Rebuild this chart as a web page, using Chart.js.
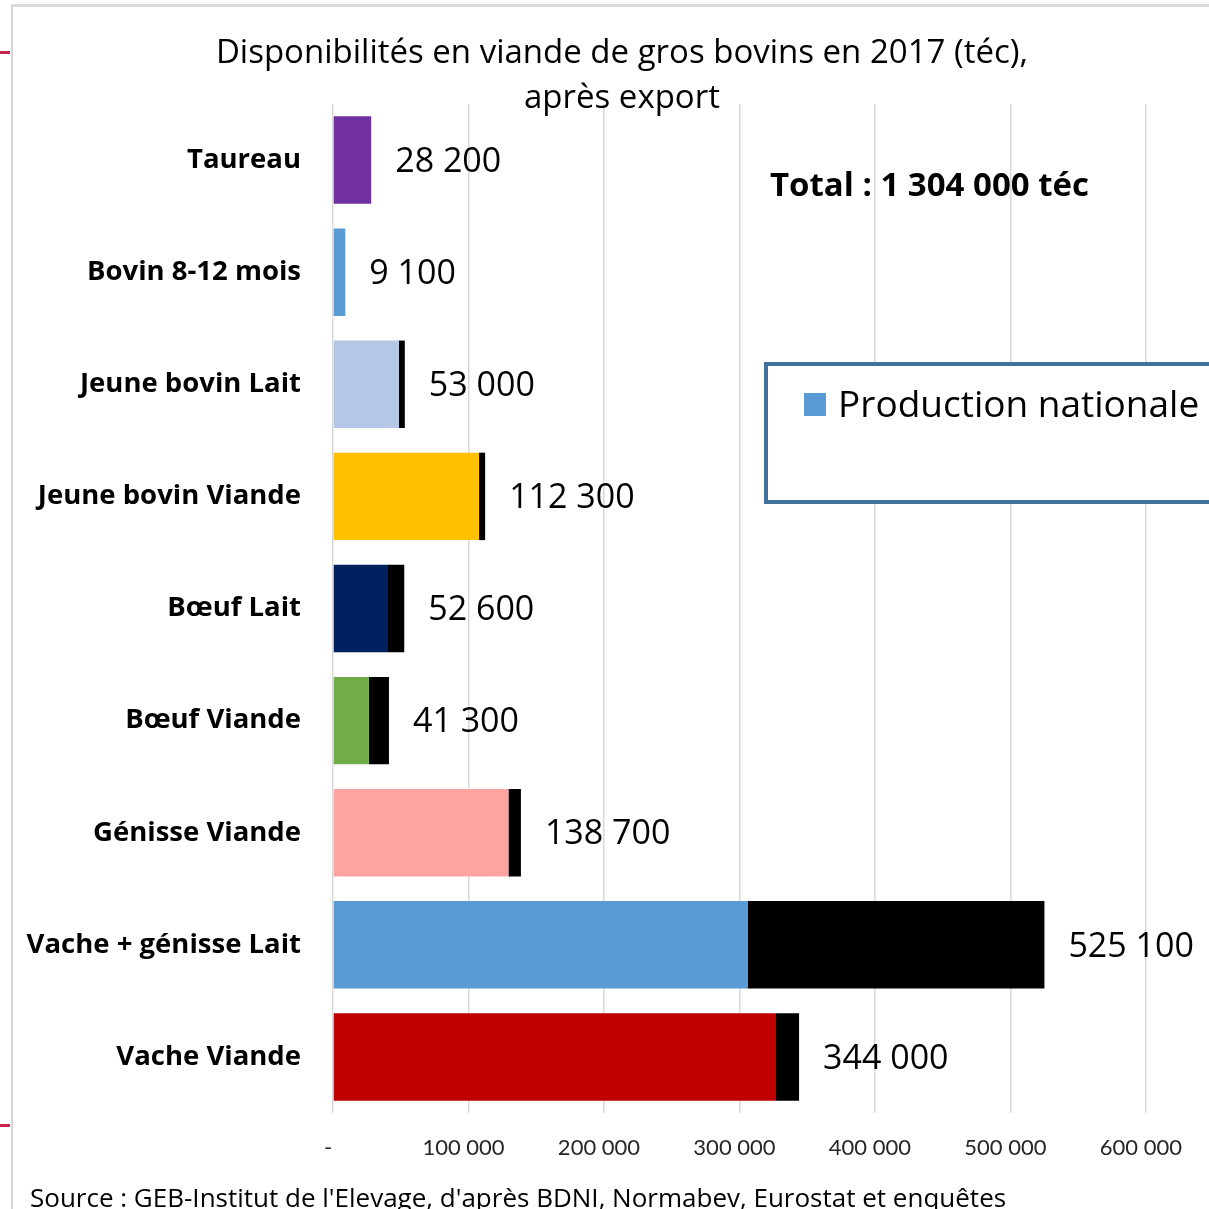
<!DOCTYPE html>
<html>
<head>
<meta charset="utf-8">
<script src="https://cdn.jsdelivr.net/npm/chart.js@4/dist/chart.umd.min.js"></script>
<style>
  html, body { margin: 0; padding: 0; background: #fff; overflow: hidden; }
  #wrap { position: relative; width: 1209px; height: 1209px; }
  canvas { position: absolute; left: 0; top: 0; }
  .frameTop { position: absolute; left: 12px; top: 4px; width: 1197px; height: 3px; background: #dcdcdc; }
  .frameLeft { position: absolute; left: 11px; top: 4px; width: 2px; height: 1205px; background: #d6d6d6; }
  .redMark { position: absolute; left: 0; width: 10px; height: 3px; background: #c8244a; }
</style>
</head>
<body>
<div id="wrap">
  <canvas id="c" width="1209" height="1209"></canvas>
  <div class="frameTop"></div>
  <div class="frameLeft"></div>
  <div class="redMark" style="top:51px"></div>
  <div class="redMark" style="top:1124px"></div>
</div>
<script>
// ---- Data ----
const categories = ['Taureau', 'Bovin 8-12 mois', 'Jeune bovin Lait', 'Jeune bovin Viande', 'Bœuf Lait', 'Bœuf Viande', 'Génisse Viande', 'Vache + génisse Lait', 'Vache Viande'];
const productionNationale = [28200, 9100, 48600, 107800, 40600, 26500, 129500, 306000, 327000];
const autres = [0, 0, 4400, 4500, 12000, 14800, 9200, 219100, 17000];
const totalLabels = ['28 200', '9 100', '53 000', '112 300', '52 600', '41 300', '138 700', '525 100', '344 000'];
const tickValues = [0, 100000, 200000, 300000, 400000, 500000, 600000];
const tickLabels = ['-', '100 000', '200 000', '300 000', '400 000', '500 000', '600 000'];
const titleLines = ['Disponibilités en viande de gros bovins en 2017 (téc),', 'après export'];
const totalText = 'Total : 1 304 000 téc';
const sourceText = "Source : GEB-Institut de l'Elevage, d'après BDNI, Normabev, Eurostat et enquêtes";
const legendLabel = 'Production nationale';

// ---- Styles ----
const barColors = ['#7030A0', '#5B9BD5', '#B4C7E7', '#FFC000', '#002060', '#70AD47', '#FFA3A3', '#5B9BD5', '#C00000'];
const SANS = '"Open Sans", sans-serif';
const LATO = 'Lato, "Open Sans", sans-serif';

const decor = {
  id: 'decor',
  afterDatasetsDraw(chart) {
    const ctx = chart.ctx;
    const xs = chart.scales.x, ys = chart.scales.y;
    ctx.save();
    // data labels (totals)
    ctx.fillStyle = '#000';
    ctx.font = '34px ' + SANS;
    ctx.textAlign = 'left';
    ctx.textBaseline = 'middle';
    categories.forEach((c, i) => {
      const total = productionNationale[i] + autres[i];
      const x = xs.getPixelForValue(total) + 24;
      const y = ys.getPixelForValue(i) + 2;
      ctx.fillText(totalLabels[i], x, y);
    });
    // title
    ctx.font = '33px ' + SANS;
    ctx.textAlign = 'center';
    ctx.fillText(titleLines[0], 622, 54);
    ctx.fillText(titleLines[1], 622, 99);
    // total text
    ctx.font = 'bold 33px ' + SANS;
    ctx.textAlign = 'left';
    ctx.fillText(totalText, 770, 187);
    // source
    ctx.font = '26px ' + SANS;
    ctx.fillText(sourceText, 30, 1200);
    // legend box
    ctx.fillStyle = '#fff';
    ctx.fillRect(766, 364, 460, 138);
    ctx.strokeStyle = '#41719C';
    ctx.lineWidth = 4;
    ctx.strokeRect(766, 364, 460, 138);
    ctx.fillStyle = '#5B9BD5';
    ctx.fillRect(804, 393, 22, 23);
    ctx.fillStyle = '#000';
    ctx.font = '37px ' + SANS;
    ctx.fillText(legendLabel, 838, 406);
    ctx.restore();
  }
};

new Chart(document.getElementById('c'), {
  type: 'bar',
  data: {
    labels: categories,
    datasets: [
      { label: legendLabel, data: productionNationale, backgroundColor: barColors, barPercentage: 0.78, categoryPercentage: 1.0 },
      { label: 'Autres', data: autres, backgroundColor: '#000000', barPercentage: 0.78, categoryPercentage: 1.0 }
    ]
  },
  options: {
    indexAxis: 'y',
    responsive: false,
    animation: false,
    devicePixelRatio: 1,
    layout: { padding: { top: 104, right: 54, left: 0, bottom: 0 } },
    plugins: { legend: { display: false }, title: { display: false }, tooltip: { enabled: false } },
    scales: {
      x: {
        stacked: true,
        min: 0,
        max: 600000,
        afterBuildTicks(scale) { scale.ticks = tickValues.map(v => ({ value: v })); },
        afterFit(scale) { scale.height = 96; },
        grid: { color: '#d9d9d9', lineWidth: 1.5, drawTicks: false },
        border: { display: false },
        ticks: {
          padding: 22,
          labelOffset: -5,
          color: '#262626',
          font: { family: LATO, size: 22 },
          callback: (v, i) => tickLabels[i]
        }
      },
      y: {
        stacked: true,
        afterFit(scale) { scale.width = 333; },
        grid: { display: false, drawTicks: false },
        border: { display: false },
        ticks: {
          padding: 32,
          color: '#000',
          font: { family: SANS, size: 27.5, weight: 'bold' }
        }
      }
    }
  },
  plugins: [decor]
});
</script>
</body>
</html>
